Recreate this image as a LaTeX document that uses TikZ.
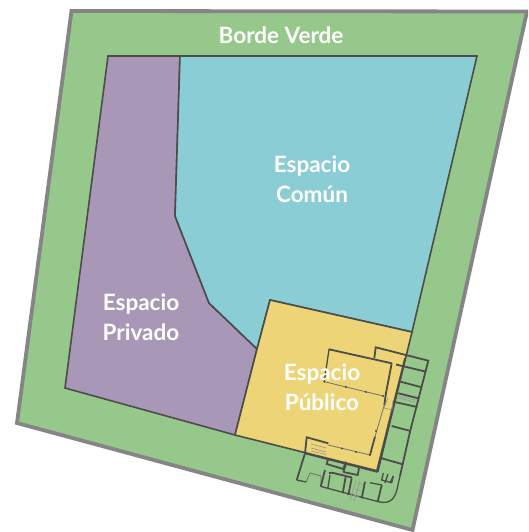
\documentclass[tikz,border=0pt]{standalone}
\usepackage{fontspec}
\setmainfont{Lato}
\definecolor{bordegray}{HTML}{858585}
\definecolor{verde}{HTML}{97C88B}
\definecolor{morado}{HTML}{A997B8}
\definecolor{cian}{HTML}{8ACDD5}
\definecolor{amarillo}{HTML}{EDD577}
\definecolor{muro}{HTML}{4C4C4A}
\tikzset{
  zone/.style={draw=muro,line width=1.6pt,line join=miter},
  etiqueta/.style={text=white,font=\fontsize{22.5}{30}\selectfont\bfseries,align=center,inner sep=0pt},
  wallthick/.style={draw=muro,line width=1.8pt},
  wallmid/.style={draw=muro,line width=1.3pt},
  wallthin/.style={draw=muro!80!white,line width=.8pt},
  stairline/.style={draw=muro!60!white,line width=.6pt},
  poste/.style={fill=muro,draw=none}
}
\begin{document}
\begin{tikzpicture}[x=1pt,y=-1pt]
\useasboundingbox (0,0) rectangle (528,532);
\begin{scope}
\clip (0,0) rectangle (528,532);
\draw[draw=bordegray,fill=verde,line width=3.8pt,line join=miter] (71.5,11) -- (527,11.5) -- (412.5,530) -- (17,423) -- cycle;
\draw[zone,fill=morado] (108,56) -- (180,56) -- (175,216) -- (209,303) -- (257,349) -- (235,435) -- (65,388) -- cycle;
\draw[zone,fill=cian] (180,56) -- (477,56) -- (412,332) -- (270,300) -- (257,349) -- (209,303) -- (175,216) -- cycle;
\draw[zone,fill=amarillo] (270,300) -- (412,332) -- (378,471) -- (235,435) -- (257,349) -- cycle;
\end{scope}
% floor plan
\draw[wallthick] (329,349.3) -- (391.7,363.3) (396,364.5) -- (426,371.7);
\draw[wallthick] (374.3,358.3) -- (375.7,347.3) -- (428.3,360.7) -- (410,431.7) -- (400,476);
\draw[wallthick] (405,358.3) -- (376.7,471.7) -- (305,453.3) -- (306.7,437.3) -- (328.3,443.3);
\draw[wallthick] (391.7,363.3) -- (386,393) (386,393) -- (384.3,405);
\draw[wallthick] (375,436.7) -- (370,455);
\draw[wallthick] (400.7,381.7) -- (421.7,387.3) (398.3,393.3) -- (418.3,398.3) (393.3,401.7) -- (417.3,407) (391.7,426) -- (410.7,431) (381.7,458.3) -- (402.7,464.3);
\draw[wallmid] (329,349.3) -- (324.3,381.7);
\draw[wallthin] (324.3,381.7) -- (383.3,396) (384.3,405) -- (375,436.7) (370,455) -- (328.3,445);
\draw[stairline] (398,398) -- (415,402) (398,396) -- (415,400);
\foreach \p in {(324.3,381.7),(346,387),(366,392),(383.3,396),(376,431),(370,455),(342,448.5),(356,452)} \fill[poste] \p circle (1.1pt);
% bottom rooms
\draw[wallthick] (305,453.3) -- (296.7,480);
\draw[wallmid] (296.7,480) -- (306,482) (321,486.5) -- (378.3,501.7);
\draw[wallthin] (306,482) -- (310,473) -- (321,476) -- (321,486.5);
\draw[wallmid] (378.3,501.7) .. controls (392,505) and (396,497) .. (398.3,483.3) -- (400,476);
\draw[wallthick] (328.3,458.3) -- (326.7,464) -- (343.3,469) -- (345.7,461.7);
\draw[wallthick] (345.7,465) -- (343.3,472) (343.3,472) -- (357.7,475) -- (359,468);
\draw[wallthick] (325,470) -- (320.7,486.7);
\draw[wallthick] (329,473) -- (332,472.7) -- (352,477.5);
\draw[wallmid] (330,475) -- (327.7,489);
\draw[wallthick] (345.7,476.7) -- (342.7,493.3);
\draw[wallthick] (351.7,478.3) -- (348.3,495);
\draw[wallthick] (365,481.7) -- (361.7,498.3);
\draw[wallthick] (381.7,485) -- (377.7,501.7);
\draw[wallmid] (370,482.7) -- (381.7,485);
\draw[wallmid] (383.3,473) -- (381.7,480) -- (391.7,482.7) -- (393.3,476);
\draw[wallmid] (393.3,476) -- (390,483) (388,474) -- (385,483);
\draw[stairline] (356,480) -- (350,500) (360,481) -- (354,501) (357,483) -- (363,484.5) (355,489) -- (361,490.5) (353,495) -- (359,496.5);
\draw[stairline] (311,444) -- (326,448) (311,448) -- (326,452) (311,451) -- (326,454.5);
\draw[stairline] (388,398) -- (384,408) -- (392,410) -- (393,400);
\node[etiqueta] (borde) at (281,35) {Borde Verde};
\node[etiqueta] (comun) at (312,179.5) {Espacio\\Común};
\node[etiqueta] (privado) at (141,317) {Espacio\\Privado};
\node[etiqueta] (publico) at (322,387) {Espacio\\Público};
\end{tikzpicture}
\end{document}
